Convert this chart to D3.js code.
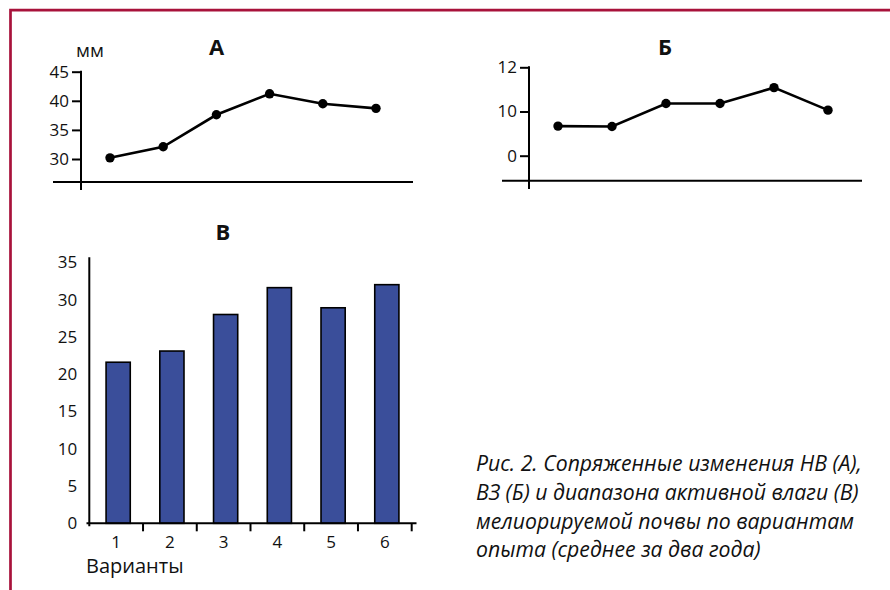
<!DOCTYPE html>
<html>
<head>
<meta charset="utf-8">
<script src="https://cdn.jsdelivr.net/npm/d3@7"></script>
<style>
  body { margin: 0; background: #fff; }
  text { font-family: "Open Sans", "Noto Sans", sans-serif; fill: #111; }
</style>
</head>
<body>
<div id="chart"></div>
<script>
// variants of the experiment (x axis, shared)
var variants = ["1", "2", "3", "4", "5", "6"];

// A: НВ, mm
var valuesA = [30.2, 32.1, 37.6, 41.2, 39.5, 38.7];
var ticksA = [30, 35, 40, 45];

// Б: ВЗ (axis drawn with evenly spaced 0 / 10 / 12 labels as in the original)
var valuesB = [6.7, 6.6, 11.8, 11.8, 15.4, 10.3];
var ticksB = [0, 10, 20];
var tickLabelsB = ["0", "10", "12"];

// В: range of active moisture
var valuesC = [21.6, 23.1, 28.0, 31.6, 28.9, 32.0];
var ticksC = [0, 5, 10, 15, 20, 25, 30, 35];

var caption = [
  "Рис. 2. Сопряженные изменения НВ (А),",
  "ВЗ (Б) и диапазона активной влаги (В)",
  "мелиорируемой почвы по вариантам",
  "опыта (среднее за два года)"
];

var w = 890, h = 590;
var svg = d3.select("#chart").append("svg")
  .attr("width", w)
  .attr("height", h);

// crimson frame (top + left)
svg.append("path")
  .attr("d", "M10.5,590V10.2H890")
  .attr("fill", "none")
  .attr("stroke", "#a8123b")
  .attr("stroke-width", 2.7);

var axisStroke = 2;

function lineChart(opt) {
  var g = svg.append("g");
  var x = d3.scalePoint().domain(variants).range(opt.xRange);
  var y = d3.scaleLinear().domain(opt.yDomain).range(opt.yRange);

  // horizontal base line
  g.append("line")
    .attr("x1", opt.baseX[0]).attr("x2", opt.baseX[1])
    .attr("y1", opt.baseY).attr("y2", opt.baseY)
    .attr("stroke", "#000").attr("stroke-width", axisStroke);

  // y axis
  var yAxis = d3.axisLeft(y)
    .tickValues(opt.ticks)
    .tickSize(9)
    .tickPadding(3)
    .tickFormat(function(d, i){ return opt.labels ? opt.labels[i] : d; });
  var ga = g.append("g")
    .attr("transform", "translate(" + opt.axisX + ",0)")
    .call(yAxis);
  ga.select(".domain").remove();
  ga.selectAll(".tick line").attr("stroke", "#000").attr("stroke-width", axisStroke);
  ga.selectAll(".tick text")
    .style("font-family", "'Open Sans', sans-serif")
    .style("font-size", "17px")
    .attr("fill", "#111");
  g.append("line")
    .attr("x1", opt.axisX).attr("x2", opt.axisX)
    .attr("y1", y(opt.yDomain[1]) - 1).attr("y2", opt.axisBottom)
    .attr("stroke", "#000").attr("stroke-width", axisStroke);

  var line = d3.line()
    .x(function(d, i){ return x(variants[i]); })
    .y(function(d){ return y(d); });

  g.append("path")
    .datum(opt.values)
    .attr("d", line)
    .attr("fill", "none")
    .attr("stroke", "#000")
    .attr("stroke-width", 2.6);

  g.selectAll(".dot")
    .data(opt.values)
    .enter()
      .append("circle")
        .attr("cx", function(d, i){ return x(variants[i]); })
        .attr("cy", function(d){ return y(d); })
        .attr("r", 4.7)
        .attr("fill", "#000");

  g.append("text")
    .attr("x", opt.titleX).attr("y", 55)
    .attr("text-anchor", "middle")
    .style("font-size", "22px")
    .style("font-weight", "bold")
    .text(opt.title);
  return g;
}

var gA = lineChart({
  xRange: [110, 376],
  yDomain: [30, 45], yRange: [159, 71.7],
  ticks: ticksA, values: valuesA,
  axisX: 81, axisBottom: 190,
  baseX: [53, 413], baseY: 182,
  titleX: 216.5, title: "А"
});
gA.append("text")
  .attr("x", 76).attr("y", 57)
  .style("font-size", "19px")
  .text("мм");

lineChart({
  xRange: [558, 828],
  yDomain: [0, 20], yRange: [155.7, 67.3],
  ticks: ticksB, labels: tickLabelsB, values: valuesB,
  axisX: 529, axisBottom: 189,
  baseX: [502, 862], baseY: 180.7,
  titleX: 665, title: "Б"
});

// В: bar chart
var gC = svg.append("g");
var xC = d3.scaleBand().domain(variants).range([89.3, 411.7])
  .paddingInner(0.55).paddingOuter(0.275);
var yC = d3.scaleLinear().domain([0, 35]).range([523.3, 262.3]);

gC.selectAll(".bar")
  .data(valuesC)
  .enter()
    .append("rect")
      .attr("x", function(d, i){ return xC(variants[i]) + 2; })
      .attr("y", function(d){ return yC(d); })
      .attr("width", xC.bandwidth())
      .attr("height", function(d){ return yC(0) - yC(d); })
      .attr("fill", "#3a4e9a")
      .attr("stroke", "#000")
      .attr("stroke-width", 1.6);

var yAxisC = d3.axisLeft(yC).tickValues(ticksC).tickSize(0).tickPadding(12);
var gyC = gC.append("g").attr("transform", "translate(89.3,0)").call(yAxisC);
gyC.select(".domain").remove();
gyC.selectAll(".tick text")
  .style("font-family", "'Open Sans', sans-serif")
  .style("font-size", "17px")
  .attr("fill", "#111");
gC.append("line")
  .attr("x1", 89.3).attr("x2", 89.3)
  .attr("y1", yC(35) - 5).attr("y2", yC(0) + 3)
  .attr("stroke", "#000").attr("stroke-width", axisStroke);

// x axis: ticks on category boundaries
gC.append("line")
  .attr("x1", 86.5).attr("x2", 416.5)
  .attr("y1", yC(0)).attr("y2", yC(0))
  .attr("stroke", "#000").attr("stroke-width", axisStroke);
var bounds = variants.map(function(v){ return xC(v) - xC.step() * xC.paddingInner() / 2 + xC.step(); });
gC.selectAll(".xtick")
  .data(bounds)
  .enter()
    .append("line")
      .attr("x1", function(d){ return d; }).attr("x2", function(d){ return d; })
      .attr("y1", yC(0)).attr("y2", yC(0) + 8)
      .attr("stroke", "#000").attr("stroke-width", axisStroke);
gC.selectAll(".xlab")
  .data(variants)
  .enter()
    .append("text")
      .attr("x", function(d){ return xC(d) + xC.bandwidth() / 2; })
      .attr("y", 548)
      .attr("text-anchor", "middle")
      .style("font-size", "17px")
      .text(function(d){ return d; });
gC.append("text")
  .attr("x", 86).attr("y", 573)
  .style("font-size", "20px")
  .text("Варианты");
gC.append("text")
  .attr("x", 223).attr("y", 240)
  .attr("text-anchor", "middle")
  .style("font-size", "22px")
  .style("font-weight", "bold")
  .text("В");

// caption, sized to the reference line width
var cap = svg.append("text")
  .attr("x", 476)
  .style("font-style", "italic")
  .style("font-size", "19px");
cap.selectAll("tspan")
  .data(caption)
  .enter()
    .append("tspan")
      .attr("x", 476)
      .attr("y", function(d, i){ return 471 + i * 28.8; })
      .text(function(d){ return d; });
var first = cap.select("tspan").node().getComputedTextLength();
cap.style("font-size", (19 * 386 / first).toFixed(2) + "px");
</script>
</body>
</html>
